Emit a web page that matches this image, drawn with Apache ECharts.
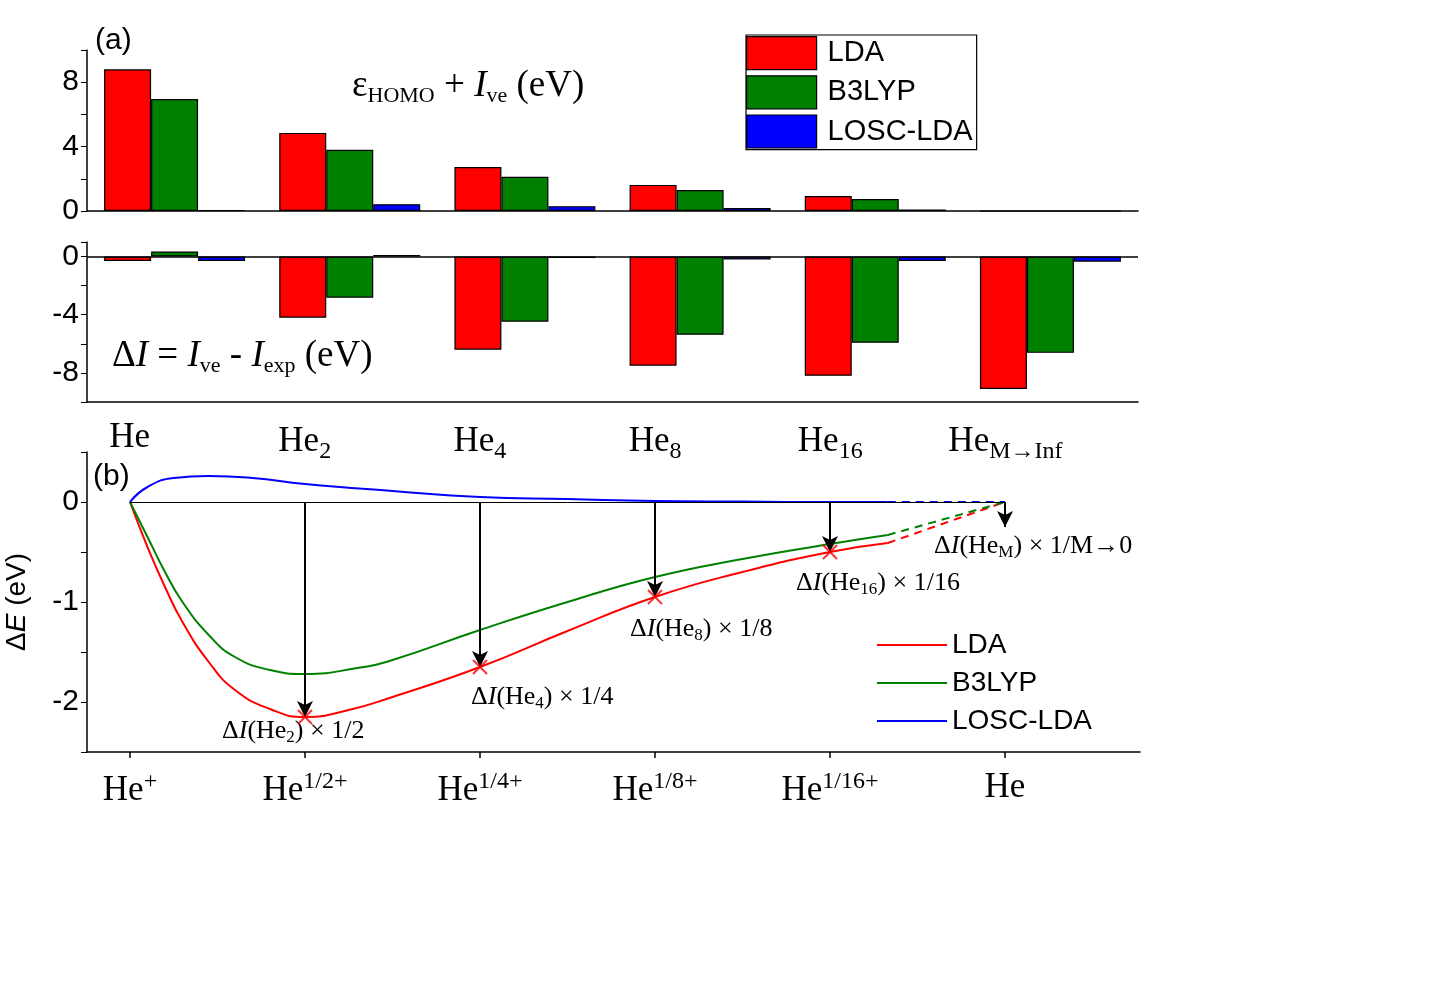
<!DOCTYPE html>
<html><head><meta charset="utf-8">
<script src="https://cdn.jsdelivr.net/npm/echarts@6/dist/echarts.min.js"></script>
<style>html,body{margin:0;background:#fff}#c{width:1440px;height:1005px}</style>
</head><body><div id="c"></div>
<script>
const categories = ['He','He2','He4','He8','He16','HeM'];
const catSub = ['', '2', '4', '8', '16', 'M→Inf'];
const topLDA = [8.8, 4.85, 2.73, 1.62, 0.93, 0];
const topB3 = [6.95, 3.8, 2.12, 1.3, 0.75, 0];
const topLOSC = [0.06, 0.42, 0.3, 0.18, 0.1, 0];
const botLDA = [-0.3, -4.2, -6.4, -7.5, -8.2, -9.1];
const botB3 = [0.35, -2.83, -4.48, -5.38, -5.93, -6.62];
const botLOSC = [-0.3, 0.1, -0.1, -0.2, -0.3, -0.35];
const ldaCurve = [[0,0],[0.1,-0.45],[0.2,-0.85],[0.3,-1.2],[0.45,-1.6],[0.6,-1.88],[0.8,-2.07],[1,-2.15],[1.25,-2.08],[1.5,-1.95],[2,-1.65],[2.5,-1.29],[3,-0.95],[3.5,-0.7],[4,-0.5],[4.33,-0.41]];
const ldaDash = [[4.33,-0.41],[5,0]];
const b3Curve = [[0,0],[0.1,-0.35],[0.2,-0.7],[0.3,-1.0],[0.45,-1.33],[0.6,-1.55],[0.8,-1.68],[1,-1.72],[1.3,-1.66],[1.5,-1.58],[2,-1.28],[2.5,-1.0],[3,-0.75],[3.5,-0.57],[4,-0.42],[4.33,-0.33]];
const b3Dash = [[4.33,-0.33],[5,0]];
const loscCurve = [[0,0],[0.1,0.15],[0.25,0.24],[0.45,0.26],[0.7,0.24],[1,0.18],[1.5,0.11],[2,0.05],[2.5,0.03],[3,0.01],[3.5,0.004],[4,0],[4.33,0]];
const loscDash = [[4.33,0],[5,0]];
const xTicksB = [0,1,2,3,4,5];
const xSupB = ['+','1/2+','1/4+','1/8+','1/16+',''];
const arrowX = [1,2,3,4];
const arrowY = [-2.15,-1.65,-0.95,-0.5];

const serif = 'Liberation Serif';
const sans = 'Liberation Sans';
const C = {LDA:'#ff0000', B3:'#008000', LOSC:'#0000ff'};

function bar(name, data, color, xi){
  return {type:'bar', name, data, xAxisIndex:xi, yAxisIndex:xi, barWidth:47, barGap:'0%',
    itemStyle:{color, borderColor:'#000', borderWidth:1.2}, silent:true};
}
const richBase = {b:{fontFamily:serif,fontSize:35,color:'#000'}, s:{fontFamily:serif,fontSize:24,color:'#000',padding:[20,0,0,0]}, u:{fontFamily:serif,fontSize:24,color:'#000',padding:[0,0,18,0]}};

const chart = echarts.init(document.getElementById('c'));
const series = [
  bar('LDA', topLDA, C.LDA, 0), bar('B3LYP', topB3, C.B3, 0), bar('LOSC-LDA', topLOSC, C.LOSC, 0),
  Object.assign(bar('LDA', botLDA, C.LDA, 1), {markLine:{silent:true,symbol:'none',label:{show:false},lineStyle:{color:'#000',width:1.5,type:'solid'},data:[{yAxis:0}]}}),
  bar('B3LYP', botB3, C.B3, 1), bar('LOSC-LDA', botLOSC, C.LOSC, 1),
  {type:'line', name:'LDA ', data:ldaCurve, xAxisIndex:2, yAxisIndex:2, smooth:true, showSymbol:false, lineStyle:{color:C.LDA,width:2}, itemStyle:{color:C.LDA}},
  {type:'line', name:'B3LYP ', data:b3Curve, xAxisIndex:2, yAxisIndex:2, smooth:true, showSymbol:false, lineStyle:{color:C.B3,width:2}, itemStyle:{color:C.B3}},
  {type:'line', name:'LOSC-LDA ', data:loscCurve, xAxisIndex:2, yAxisIndex:2, smooth:true, showSymbol:false, lineStyle:{color:C.LOSC,width:2}, itemStyle:{color:C.LOSC},
    markLine:{silent:true, symbol:'none', label:{show:false}, lineStyle:{color:'#000',width:1,type:'solid'}, data:[[{coord:[0,0]},{coord:[5,0]}]]}},
  {type:'line', data:ldaDash, xAxisIndex:2, yAxisIndex:2, showSymbol:false, lineStyle:{color:C.LDA,width:2,type:[8,6]}},
  {type:'line', data:b3Dash, xAxisIndex:2, yAxisIndex:2, showSymbol:false, lineStyle:{color:C.B3,width:2,type:[8,6]}},
  {type:'line', data:loscDash, xAxisIndex:2, yAxisIndex:2, showSymbol:false, lineStyle:{color:C.LOSC,width:2,type:[8,6]}},
  {type:'scatter', data:arrowX.map((x,i)=>[x,arrowY[i]]), xAxisIndex:2, yAxisIndex:2, z:5,
    symbol:'path://M0,0L10,10M10,0L0,10', symbolSize:14, itemStyle:{color:'none',borderColor:C.LDA,borderWidth:2},
    markLine:{silent:true, symbol:['none','arrow'], symbolSize:[12,16], label:{show:false}, lineStyle:{color:'#000',width:2,type:'solid'},
      data: arrowX.map((x,i)=>[{coord:[x,0]},{coord:[x,arrowY[i]]}]).concat([[{coord:[5,0]},{coord:[5,-0.25]}]])}}
];

chart.setOption({
  animation:false,
  grid:[{left:87,top:50,width:1051,height:161,outerBoundsMode:'none',containLabel:false},
        {left:87,top:242,width:1051,height:160,outerBoundsMode:'none',containLabel:false},
        {left:87,top:452,width:1053,height:300,outerBoundsMode:'none',containLabel:false}],
  xAxis:[
    {type:'category', gridIndex:0, data:categories, axisLine:{lineStyle:{color:'#000',width:1.5}}, axisTick:{show:false}, axisLabel:{show:false}},
    {type:'category', gridIndex:1, data:categories, axisLine:{onZero:false,lineStyle:{color:'#000',width:1.5}}, axisTick:{show:false},
      axisLabel:{margin:18, padding:[0,90,0,0], formatter:(v,i)=> catSub[i] ? '{b|He}{s|'+catSub[i]+'}' : '{b|He}', rich:richBase}},
    {type:'value', gridIndex:2, min:-0.2457, max:5.7714, axisLine:{onZero:false,lineStyle:{color:'#000',width:1.5}}, splitLine:{show:false},
      axisTick:{show:true, length:6, customValues:xTicksB, lineStyle:{color:'#000',width:1.5}},
      axisLabel:{margin:18, customValues:xTicksB, formatter:(v)=> { const s = xSupB[Math.round(v)]; return s ? '{b|He}{u|'+s+'}' : '{b|He}'; }, rich:richBase}}
  ],
  yAxis:[
    {type:'value', gridIndex:0, min:0, max:10, interval:2, splitLine:{show:false}, axisLine:{show:true,lineStyle:{color:'#000',width:1.5}},
      axisTick:{show:true,length:6,lineStyle:{color:'#000'}}, axisLabel:{fontFamily:sans,fontSize:30,color:'#000',formatter:v=>v%4===0&&v<10?v:''}},
    {type:'value', gridIndex:1, min:-10, max:1, interval:2, splitLine:{show:false}, axisLine:{show:true,lineStyle:{color:'#000',width:1.5}},
      axisTick:{show:true,length:6,lineStyle:{color:'#000'}}, axisLabel:{fontFamily:sans,fontSize:30,color:'#000',formatter:v=>v%4===0&&v>-10?v:''}},
    {type:'value', gridIndex:2, min:-2.5, max:0.5, interval:0.5, splitLine:{show:false}, axisLine:{show:true,onZero:false,lineStyle:{color:'#000',width:1.5}},
      axisTick:{show:true,length:6,lineStyle:{color:'#000'}}, axisLabel:{fontFamily:sans,fontSize:30,color:'#000',formatter:v=>Number.isInteger(v)?v:''},
      name:'{a|Δ}{i|E}{a| (eV)}', nameLocation:'middle', nameGap:56, nameRotate:90,
      nameTextStyle:{rich:{a:{fontFamily:sans,fontSize:28,color:'#000'},i:{fontFamily:sans,fontSize:28,fontStyle:'italic',color:'#000'}}}}
  ],
  legend:[
    {data:['LDA','B3LYP','LOSC-LDA'], orient:'vertical', left:746, top:35, padding:[1,4,1,0], itemGap:5, itemWidth:70, itemHeight:33,
      icon:'rect', borderColor:'#000', borderWidth:1.2, selectedMode:false, textStyle:{fontFamily:sans,fontSize:29,color:'#000',padding:[0,0,0,6]}, itemStyle:{borderColor:'#000',borderWidth:1.2}},
    {data:['LDA ','B3LYP ','LOSC-LDA '], orient:'vertical', left:872, top:626, itemGap:10, itemWidth:70, itemHeight:2,
      icon:'rect', selectedMode:false, textStyle:{fontFamily:sans,fontSize:28,color:'#000'}}
  ],
  graphic:[
    {type:'text', left:95, top:26, style:{text:'(a)', font:'30px '+sans, fill:'#000'}},
    {type:'text', left:93, top:462, style:{text:'(b)', font:'30px '+sans, fill:'#000'}},
    {type:'text', left:352, top:68, style:{text:'{g|ε}{s|HOMO}{g| + }{i|I}{s|ve}{g| (eV)}', rich:{g:{fontFamily:serif,fontSize:37},i:{fontFamily:serif,fontSize:37,fontStyle:'italic'},s:{fontFamily:serif,fontSize:22,padding:[20,0,0,0]}}}},
    {type:'text', left:112, top:338, style:{text:'{g|Δ}{i|I}{g| = }{i|I}{s|ve}{g| - }{i|I}{s|exp}{g| (eV)}', rich:{g:{fontFamily:serif,fontSize:37},i:{fontFamily:serif,fontSize:37,fontStyle:'italic'},s:{fontFamily:serif,fontSize:22,padding:[20,0,0,0]}}}},
  ].concat([
    [222,718,'2','1/2'],[471,684,'4','1/4'],[630,616,'8','1/8'],[796,570,'16','1/16'],[934,533,'M','1/M→0']
  ].map(([x,y,sub,fr])=>({type:'text', left:x, top:y, style:{text:'{g|Δ}{i|I}{g|(He}{s|'+sub+'}{g|) × '+fr+'}', rich:{g:{fontFamily:serif,fontSize:26},i:{fontFamily:serif,fontSize:26,fontStyle:'italic'},s:{fontFamily:serif,fontSize:17,padding:[14,0,0,0]}}}}))),
  series
});
</script></body></html>
